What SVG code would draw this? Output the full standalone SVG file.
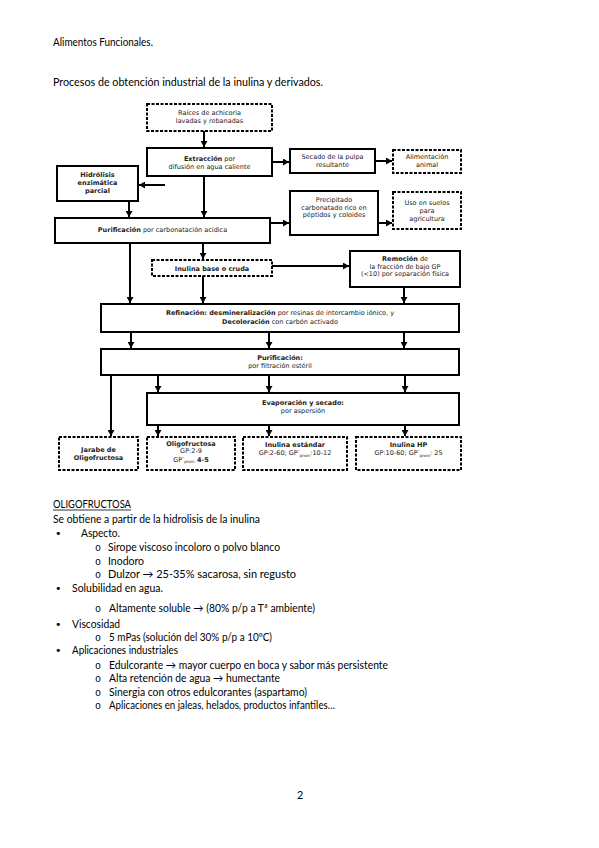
<svg xmlns="http://www.w3.org/2000/svg" width="599" height="848" viewBox="0 0 599 848">
<style>
.box{fill:#fff;stroke:#000;stroke-width:2}
.dbox{fill:#fff;stroke:#000;stroke-width:2;stroke-dasharray:3 1.5}
.t{font-family:"DejaVu Sans",Verdana,sans-serif;font-size:6.5px;text-anchor:middle;fill:#222}
.b{font-weight:bold}
.c{stroke:#000;stroke-width:2;fill:none}
.p{font-family:Lato,"Open Sans",sans-serif;font-size:10.8px;fill:#000}
.bu{font-family:"DejaVu Sans",sans-serif;font-size:11px;fill:#000}
.o{font-family:"Liberation Mono",monospace;font-size:10px;fill:#000}
</style>
<defs>
<marker id="ah" markerUnits="userSpaceOnUse" markerWidth="7" markerHeight="7" refX="6" refY="3.5" orient="auto">
<path d="M0,0 L6,3.5 L0,7 z" fill="#000"/>
</marker>
</defs>
<rect width="599" height="848" fill="#fff"/>

<g id="page-text">
<text class="p" x="53" y="46" textLength="100" lengthAdjust="spacingAndGlyphs">Alimentos Funcionales.</text>
<text class="p" x="53" y="86" textLength="270" lengthAdjust="spacingAndGlyphs">Procesos de obtención industrial de la inulina y derivados.</text>
<text class="p" x="53" y="508" textLength="78" lengthAdjust="spacingAndGlyphs">OLIGOFRUCTOSA</text>
<line x1="53" y1="510" x2="131" y2="510" stroke="#000" stroke-width="0.8"/>
<text class="p" x="53" y="523" textLength="207" lengthAdjust="spacingAndGlyphs">Se obtiene a partir de la hidrolisis de la inulina</text>
<text class="bu" x="55" y="537">•</text>
<text class="p" x="81" y="537" textLength="39" lengthAdjust="spacingAndGlyphs">Aspecto.</text>
<text class="o" x="95" y="551">o</text>
<text class="p" x="108" y="551" textLength="172" lengthAdjust="spacingAndGlyphs">Sirope viscoso incoloro o polvo blanco</text>
<text class="o" x="95" y="565">o</text>
<text class="p" x="108" y="565" textLength="36" lengthAdjust="spacingAndGlyphs">Inodoro</text>
<text class="o" x="95" y="578">o</text>
<text class="p" x="108" y="578" textLength="188" lengthAdjust="spacingAndGlyphs">Dulzor → 25-35% sacarosa, sin regusto</text>
<text class="bu" x="55" y="592">•</text>
<text class="p" x="72" y="592" textLength="91" lengthAdjust="spacingAndGlyphs">Solubilidad en agua.</text>
<text class="o" x="95" y="612">o</text>
<text class="p" x="109" y="612" textLength="206" lengthAdjust="spacingAndGlyphs">Altamente soluble → (80% p/p a Tª ambiente)</text>
<text class="bu" x="55" y="628">•</text>
<text class="p" x="72" y="628" textLength="48" lengthAdjust="spacingAndGlyphs">Viscosidad</text>
<text class="o" x="95" y="641">o</text>
<text class="p" x="109" y="641" textLength="163" lengthAdjust="spacingAndGlyphs">5 mPas (solución del 30% p/p a 10ºC)</text>
<text class="bu" x="55" y="654">•</text>
<text class="p" x="72" y="654" textLength="106" lengthAdjust="spacingAndGlyphs">Aplicaciones industriales</text>
<text class="o" x="95" y="669">o</text>
<text class="p" x="109" y="669" textLength="279" lengthAdjust="spacingAndGlyphs">Edulcorante → mayor cuerpo en boca y sabor más persistente</text>
<text class="o" x="95" y="682">o</text>
<text class="p" x="109" y="682" textLength="171" lengthAdjust="spacingAndGlyphs">Alta retención de agua → humectante</text>
<text class="o" x="95" y="696">o</text>
<text class="p" x="109" y="696" textLength="198" lengthAdjust="spacingAndGlyphs">Sinergia con otros edulcorantes (aspartamo)</text>
<text class="o" x="95" y="709">o</text>
<text class="p" x="109" y="709" textLength="226" lengthAdjust="spacingAndGlyphs">Aplicaciones en jaleas, helados, productos infantiles…</text>
<text class="p" x="297" y="799">2</text>
</g>

<g id="connectors">
<line class="c" x1="204" y1="131" x2="204" y2="147" marker-end="url(#ah)"/>
<line class="c" x1="272" y1="162" x2="289" y2="162" marker-end="url(#ah)"/>
<line class="c" x1="375" y1="161" x2="392" y2="161" marker-end="url(#ah)"/>
<line class="c" x1="204" y1="176" x2="204" y2="217" marker-end="url(#ah)"/>
<line class="c" x1="165" y1="185" x2="139" y2="185" marker-end="url(#ah)"/>
<line class="c" x1="129" y1="201" x2="129" y2="217" marker-end="url(#ah)"/>
<line class="c" x1="270" y1="223" x2="289" y2="223" marker-end="url(#ah)"/>
<line class="c" x1="378" y1="223" x2="392" y2="223" marker-end="url(#ah)"/>
<line class="c" x1="203" y1="243" x2="203" y2="259" marker-end="url(#ah)"/>
<line class="c" x1="272" y1="266" x2="349" y2="266" marker-end="url(#ah)"/>
<line class="c" x1="130" y1="243" x2="130" y2="303" marker-end="url(#ah)"/>
<line class="c" x1="203" y1="276" x2="203" y2="303" marker-end="url(#ah)"/>
<line class="c" x1="404" y1="287" x2="404" y2="303" marker-end="url(#ah)"/>
<line class="c" x1="131" y1="332" x2="131" y2="348" marker-end="url(#ah)"/>
<line class="c" x1="269" y1="332" x2="269" y2="348" marker-end="url(#ah)"/>
<line class="c" x1="404" y1="332" x2="404" y2="348" marker-end="url(#ah)"/>
<line class="c" x1="111" y1="375" x2="111" y2="436" marker-end="url(#ah)"/>
<line class="c" x1="158" y1="375" x2="158" y2="392" marker-end="url(#ah)"/>
<line class="c" x1="269" y1="375" x2="269" y2="392" marker-end="url(#ah)"/>
<line class="c" x1="405" y1="375" x2="405" y2="392" marker-end="url(#ah)"/>
<line class="c" x1="158" y1="425" x2="158" y2="436" marker-end="url(#ah)"/>
<line class="c" x1="269" y1="425" x2="269" y2="436" marker-end="url(#ah)"/>
<line class="c" x1="405" y1="425" x2="405" y2="436" marker-end="url(#ah)"/>
</g>

<g id="raices">
<rect class="dbox" x="147" y="104" width="125" height="27"/>
<text class="t" x="209.5" y="115">Raíces de achicoria</text>
<text class="t" x="209.5" y="123">lavadas y rebanadas</text>
</g>
<g id="extraccion">
<rect class="box" x="147" y="148" width="125" height="28"/>
<text class="t" x="209.5" y="161"><tspan class="b">Extracción</tspan> por</text>
<text class="t" x="209.5" y="168.5">difusión en agua caliente</text>
</g>
<g id="secado">
<rect class="box" x="290" y="149" width="85" height="24"/>
<text class="t" x="332.5" y="159">Secado de la pulpa</text>
<text class="t" x="332.5" y="167">resultante</text>
</g>
<g id="alimentacion">
<rect class="dbox" x="393" y="150" width="68" height="23"/>
<text class="t" x="427" y="159">Alimentación</text>
<text class="t" x="427" y="167">animal</text>
</g>
<g id="hidrolisis">
<rect class="box" x="57" y="166" width="81" height="35"/>
<text class="t b" x="97.5" y="177">Hidrólisis</text>
<text class="t b" x="97.5" y="185">enzimática</text>
<text class="t b" x="97.5" y="193">parcial</text>
</g>
<g id="purificacion1">
<rect class="box" x="55" y="218" width="215" height="25"/>
<text class="t" x="162.5" y="232"><tspan class="b">Purificación</tspan> por carbonatación acídica</text>
</g>
<g id="precipitado">
<rect class="box" x="290" y="191" width="88" height="44"/>
<text class="t" x="334" y="202">Precipitado</text>
<text class="t" x="334" y="209.5">carbonatado rico en</text>
<text class="t" x="334" y="217">péptidos y coloides</text>
</g>
<g id="uso-suelos">
<rect class="dbox" x="393" y="192" width="68" height="37"/>
<text class="t" x="427" y="204.5">Uso en suelos</text>
<text class="t" x="427" y="212.5">para</text>
<text class="t" x="427" y="220.5">agricultura</text>
</g>
<g id="inulina-base">
<rect class="dbox" x="152" y="260" width="120" height="16"/>
<text class="t b" x="212" y="270.5">Inulina base o cruda</text>
</g>
<g id="remocion">
<rect class="box" x="350" y="251" width="110" height="36"/>
<text class="t" x="405" y="261"><tspan class="b">Remoción</tspan> de</text>
<text class="t" x="405" y="268.5">la fracción de bajo GP</text>
<text class="t" x="405" y="276">(&lt;10) por separación física</text>
</g>
<g id="refinacion">
<rect class="box" x="101" y="304" width="358" height="28"/>
<text class="t" x="280" y="315"><tspan class="b">Refinación: desmineralización</tspan> por resinas de intercambio iónico, y</text>
<text class="t" x="280" y="323.5"><tspan class="b">Decoloración</tspan> con carbón activado</text>
</g>
<g id="purificacion2">
<rect class="box" x="101" y="349" width="358" height="26"/>
<text class="t b" x="280" y="360">Purificación:</text>
<text class="t" x="280" y="367.5">por filtración estéril</text>
</g>
<g id="evaporacion">
<rect class="box" x="147" y="393" width="312" height="32"/>
<text class="t b" x="303" y="405">Evaporación y secado:</text>
<text class="t" x="303" y="412.5">por aspersión</text>
</g>
<g id="jarabe">
<rect class="dbox" x="59" y="437" width="79" height="33"/>
<text class="t b" x="98.5" y="452">Jarabe de</text>
<text class="t b" x="98.5" y="459.5">Oligofructosa</text>
</g>
<g id="oligofructosa">
<rect class="dbox" x="147" y="437" width="88" height="33"/>
<text class="t b" x="191" y="445.5">Oligofructosa</text>
<text class="t" x="191" y="453" font-size="6">GP:2-9</text>
<text class="t" x="191" y="461.5">GP<tspan font-size="4" dy="-2">‾</tspan><tspan font-size="4" dy="3.5">prom</tspan><tspan class="b" dy="-1.5"> 4-5</tspan></text>
</g>
<g id="inulina-estandar">
<rect class="dbox" x="243" y="437" width="104" height="33"/>
<text class="t b" x="295" y="447">Inulina estándar</text>
<text class="t" x="295" y="455">GP:2-60; GP<tspan font-size="4" dy="-2">‾</tspan><tspan font-size="4" dy="3.5">prom</tspan><tspan dy="-1.5">:10-12</tspan></text>
</g>
<g id="inulina-hp">
<rect class="dbox" x="356" y="437" width="105" height="33"/>
<text class="t b" x="408.5" y="447">Inulina HP</text>
<text class="t" x="408.5" y="455">GP:10-60; GP<tspan font-size="4" dy="-2">‾</tspan><tspan font-size="4" dy="3.5">prom</tspan><tspan dy="-1.5">: 25</tspan></text>
</g>
</svg>
